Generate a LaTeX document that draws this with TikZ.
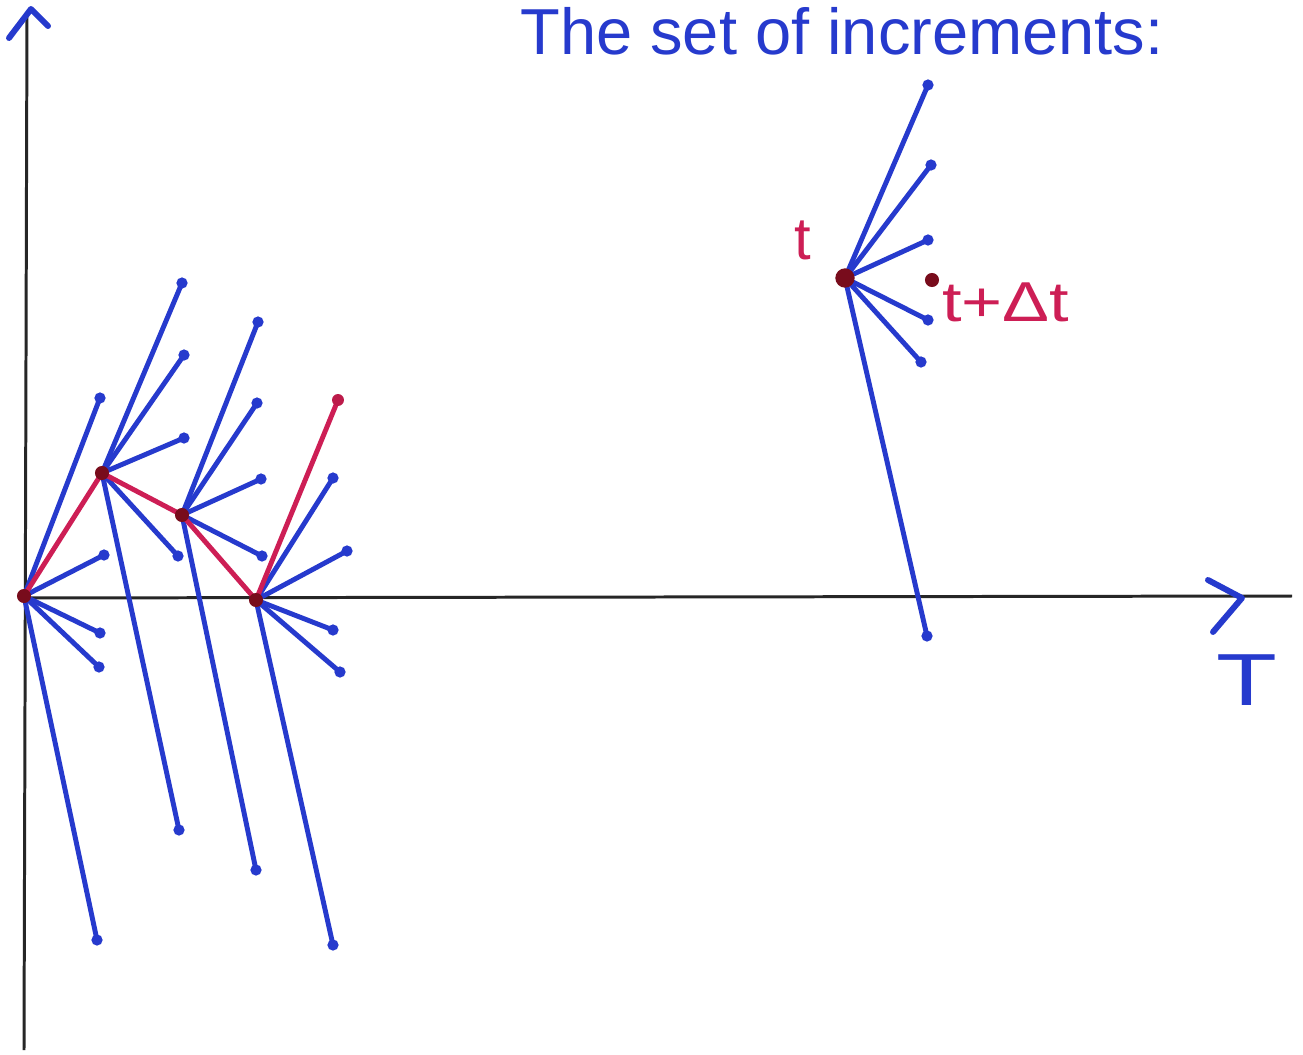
\documentclass[tikz,border=0pt]{standalone}
\usepackage{fontspec}
\setmainfont{Liberation Sans}
\usepackage{graphicx}
\definecolor{pen}{RGB}{38,58,205}
\definecolor{redpen}{RGB}{205,30,85}
\definecolor{hubred}{RGB}{120,12,28}
\begin{document}
\begin{tikzpicture}[x=0.02cm,y=-0.02cm,
  axis/.style={line width=1.7pt,black!85},
  bl/.style={pen,line width=2.8pt,line cap=round},
  rd/.style={redpen,line width=2.8pt,line cap=round},
  head/.style={pen,line width=3.4pt,line cap=round,line join=round},
  tipdot/.style={pen},
  hubdot/.style={hubred},
  lbl/.style={inner sep=0pt}]
\useasboundingbox (0,0) rectangle (1303,1055);
\fill[white] (0,0) rectangle (1303,1055);
% axes
\coordinate (yb) at (24,1050); \coordinate (yt) at (27,12);
\coordinate (xl) at (20,598); \coordinate (xr) at (1292,596);
\draw[axis] (yb) -- (yt);
\draw[axis] (xl) -- (xr);
\coordinate (ya1) at (9,38); \coordinate (ya0) at (31,9); \coordinate (ya2) at (48,26);
\draw[head] (ya1) -- (ya0) -- (ya2);
\coordinate (xa1) at (1208,580); \coordinate (xa0) at (1242,598); \coordinate (xa2) at (1213,632);
\draw[head] (xa1) -- (xa0) -- (xa2);
\node[lbl,pen,font=\fontsize{42}{44}\selectfont] (T) at (1247,680) {\scalebox{1.35}[1]{T}};
% title
\node[lbl,pen,font=\fontsize{37}{40}\selectfont] (title) at (842,31) {The set of increments:};
% hubs
\coordinate (A) at (24,596);
\coordinate (B) at (102,473);
\coordinate (C) at (182,515);
\coordinate (D) at (256,600);
\coordinate (H) at (845,278);
% endpoints
\foreach \n/\x/\y in {a1/100/398, a2/104/555, a3/100/633, a4/99/667, a5/97/940,
  b1/182/283, b2/184/355, b3/184/438, b4/178/556, b5/179/830,
  c1/258/322, c2/257/403, c3/261/479, c4/262/556, c5/256/870,
  d1/333/478, d2/347/551, d3/333/630, d4/340/672, d5/333/945,
  h1/928/85, h2/931/165, h3/928/240, h4/928/320, h5/921/362, h6/927/636}
  \coordinate (\n) at (\x,\y);
\coordinate (E) at (338,400);
% blue increments
\foreach \h/\e in {A/a1,A/a2,A/a3,A/a4,A/a5,B/b1,B/b2,B/b3,B/b4,B/b5,
  C/c1,C/c2,C/c3,C/c4,C/c5,D/d1,D/d2,D/d3,D/d4,D/d5,
  H/h1,H/h2,H/h3,H/h4,H/h5,H/h6}
  \draw[bl] (\h) -- (\e);
\foreach \e in {a1,a2,a3,a4,a5,b1,b2,b3,b4,b5,c1,c2,c3,c4,c5,d1,d2,d3,d4,d5,h1,h2,h3,h4,h5,h6}
  \fill[tipdot] (\e) circle (3.2pt);
% red path
\draw[rd,line join=round] (A) -- (B) -- (C) -- (D) -- (E);
\fill[redpen!80!hubred] (E) circle (3.4pt);
\foreach \h in {A,B,C,D} \fill[hubdot] (\h) circle (4pt);
\fill[hubdot] (H) circle (5.5pt);
% right labels
\coordinate (P) at (932,280);
\fill[hubdot] (P) circle (4pt);
\node[lbl,redpen,font=\fontsize{34}{36}\selectfont] (tl) at (803,240) {t};
\node[lbl,redpen,font=\fontsize{32}{34}\selectfont,anchor=west] (tdt) at (942,302) {\scalebox{1.25}[1]{t+Δt}};
\end{tikzpicture}
\end{document}
